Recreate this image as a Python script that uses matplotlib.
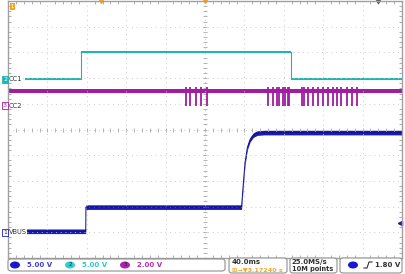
import numpy as np
import matplotlib
matplotlib.use("Agg")
import matplotlib.pyplot as plt
from matplotlib.patches import FancyBboxPatch, Ellipse
from matplotlib.lines import Line2D

# scope settings
time_per_div = 40.0  # ms
ch_scale = {"VBUS": 5.0, "CC1": 5.0, "CC2": 2.0}      # V/div
ch_offset = {"VBUS": -4.0, "CC1": 1.95, "CC2": 0.93}  # divisions from centre
trig_level = 1.8  # V on ch1

# VBUS (ch1) breakpoints, ms / V
vbus_t = [-200, -121.1, -120.9, 37.1, 38.5, 40.6, 43.0, 45.7, 49.0, 53.0, 60.0, 200]
vbus_v = [0.2, 0.2, 4.9, 4.9, 8.5, 13.5, 16.5, 18.0, 18.9, 19.3, 19.4, 19.4]

# CC1 (ch2) breakpoints
cc1_t = [-183, -125.9, -125.9, 87.0, 87.0, 200]
cc1_v = [0.1, 0.1, 5.3, 5.3, 0.1, 0.1]

# CC2 (ch3) idle level and BMC pulses
cc2_idle = 1.14
cc2_pulse_low = 0.0
cc2_pulse_high = 1.48
cc2_pulses = [-19.3, -15.2, -9.1, -4.4, 1.7,
              64.0, 68.7, 72.8, 75.1, 78.9, 81.2, 84.0, 85.6,
              98.2, 100.5, 104.6, 109.6, 114.7, 119.8, 124.9, 129.6,
              133.7, 137.8, 143.9, 148.9, 154.0]

blue = "#1c1cb4"
cyan = "#1fb5b0"
magenta = "#a01ca0"
orange = "#f5a623"
W, H = 405, 274


def div(name, v):
    return ch_offset[name] + np.asarray(v) / ch_scale[name]


def fx(x):
    return x / W


def fy(y):
    return 1 - y / H


fig = plt.figure(figsize=(W / 100, H / 100), dpi=100)
ax = fig.add_axes([fx(8), fy(258), 394 / W, 257 / H])
ax.set_xlim(-200, 200)
ax.set_ylim(-5, 5)

# graticule
ax.set_xticks(np.arange(-200, 201, time_per_div))
ax.set_yticks(np.arange(-5, 6, 1))
ax.set_xticks(np.arange(-200, 201, time_per_div / 5), minor=True)
ax.set_yticks(np.arange(-5, 5.01, 0.2), minor=True)
ax.tick_params(which="both", direction="in", top=True, right=True,
               labelbottom=False, labelleft=False, color="#a0a0a0")
ax.tick_params(which="major", length=0)
ax.tick_params(which="minor", length=2, width=0.6)
ax.grid(True, which="major", color="#c4c4c4", lw=0.6, ls=(0, (1.2, 4.5)))
for s in ax.spines.values():
    s.set_color("#a0a0a0")
    s.set_linewidth(1.0)
ax.plot(np.zeros(51), np.arange(-5, 5.01, 0.2), ls="none", marker="_",
        ms=3, mew=0.6, color="#a8a8a8")
ax.plot(np.arange(-200, 201, 8), np.zeros(51), ls="none", marker="|",
        ms=3, mew=0.6, color="#a8a8a8")

# traces
y = div("CC2", cc2_idle)
ax.fill_between([-200, 200], y - 0.08, y + 0.08, color=magenta, lw=0)
ax.vlines(cc2_pulses, div("CC2", cc2_pulse_low), div("CC2", cc2_pulse_high),
          color=magenta, lw=1.3)

y = div("CC1", cc1_v)
ax.fill_between(cc1_t, y - 0.04, y + 0.04, color=cyan, lw=0)
ax.plot(cc1_t, y, color=cyan, lw=0.8)

y = div("VBUS", vbus_v)
ax.fill_between(vbus_t, y - 0.09, y + 0.09, color=blue, lw=0)
ax.plot(vbus_t, y, color="#10108a", lw=0.7)

# channel labels inside the graticule
for name, tx in [("CC1", "CC1"), ("CC2", "CC2"), ("VBUS", "VBUS")]:
    ax.text(-199, ch_offset[name], tx, fontsize=4.8, va="center", ha="left",
            color="#303030", zorder=5,
            bbox=dict(facecolor="white", edgecolor="none", pad=0.3))

# ground markers in the left margin
for name, num, col, filled in [("VBUS", "1", blue, False), ("CC1", "2", cyan, True),
                               ("CC2", "3", magenta, False)]:
    ax.text(-201, ch_offset[name], num, fontsize=4.5, va="center", ha="right",
            color="white" if filled else col, clip_on=False, zorder=6,
            bbox=dict(boxstyle="square,pad=0.15", facecolor=col if filled else "white",
                      edgecolor=col, lw=0.6))

# trigger level marker on the right edge
ax.plot([198], [div("VBUS", trig_level)], marker="<", ms=3, color=blue, clip_on=False)

# top markers
ax.plot([-106, 0], [5, 5], ls="none", marker="v", ms=3, color=orange, clip_on=False)
ax.plot([176], [5], ls="none", marker="v", ms=3, color="#505050", clip_on=False)
fig.text(fx(12.5), fy(6.5), "1", fontsize=3.8, color="white", ha="center", va="center",
         bbox=dict(boxstyle="square,pad=0.2", facecolor=orange, edgecolor="none"))

# status bar
def box(x0, y0, x1, y1):
    fig.patches.append(FancyBboxPatch((fx(x0), fy(y1)), fx(x1 - x0), (y1 - y0) / H,
                                      boxstyle="round,pad=0,rounding_size=0.008",
                                      transform=fig.transFigure, facecolor="white",
                                      edgecolor="#909090", lw=0.8))


def chip(xc, yc, col, num):
    fig.patches.append(Ellipse((fx(xc), fy(yc)), 10 / W, 7 / H, transform=fig.transFigure,
                               facecolor=col, edgecolor="none"))
    if num:
        fig.text(fx(xc), fy(yc), num, fontsize=4, color="#202020",
                 ha="center", va="center")


box(8, 259, 225, 271)
box(229, 258, 287, 273)
box(290, 258, 337, 273)
box(340, 258, 402, 273)

chip(15, 265, "#1818d0", "1")
fig.text(fx(27), fy(265), "5.00 V", fontsize=5, weight="bold", color="#4040c8", va="center")
chip(70, 265, "#30d0d0", "2")
fig.text(fx(82), fy(265), "5.00 V", fontsize=5, weight="bold", color="#30c8c8", va="center")
chip(125, 265, "#b020b0", "3")
fig.text(fx(137), fy(265), "2.00 V", fontsize=5, weight="bold", color="#b030b0", va="center")

fig.text(fx(232), fy(262), "40.0ms", fontsize=5, weight="bold", color="#303030", va="center")
fig.text(fx(232), fy(269.5), "\u229e\u2192\u25bc3.17240 s", fontsize=4.6, weight="bold",
         color=orange, va="center")
fig.text(fx(292), fy(262), "25.0MS/s", fontsize=5, weight="bold", color="#303030", va="center")
fig.text(fx(292), fy(269.5), "10M points", fontsize=4.8, weight="bold", color="#303030",
         va="center")
chip(353, 265, "#1818d0", "")
fig.lines.append(Line2D([fx(364), fx(367), fx(369), fx(372)],
                        [fy(268), fy(268), fy(262), fy(262)],
                        transform=fig.transFigure, color="#303030", lw=0.8))
fig.text(fx(400), fy(265), "1.80 V", fontsize=5, weight="bold", color="#303030",
         va="center", ha="right")

fig.savefig("out.png", dpi=100)
